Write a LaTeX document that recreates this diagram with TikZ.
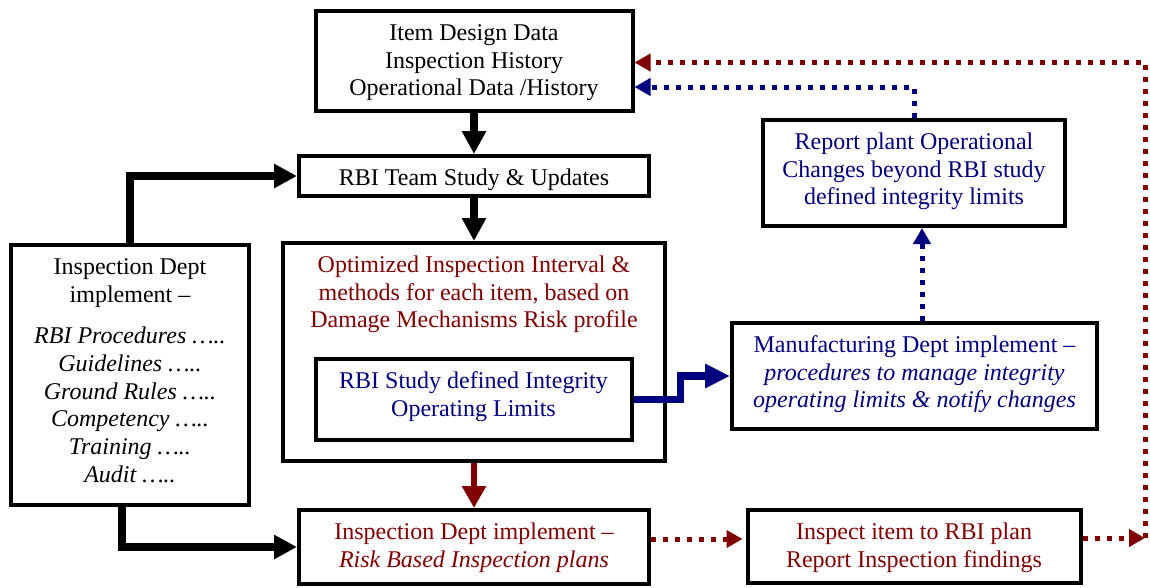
\documentclass[tikz,border=0pt]{standalone}
\usepackage{fontspec}
\setmainfont{Liberation Serif}
\usetikzlibrary{arrows.meta}
\definecolor{dred}{RGB}{128,0,0}
\definecolor{dblue}{RGB}{0,0,128}
\newcommand{\boxfont}{\fontsize{24}{27.7}\selectfont}
\begin{document}
\begin{tikzpicture}[x=1pt,y=-1pt,
  box/.style={draw=black, line width=4pt, inner sep=0pt, align=center, font=\boxfont},
  txt/.style={inner sep=0pt, align=center, font=\boxfont},
  blk/.style={draw=black, line width=7.5pt, -{Triangle[length=23pt,width=23pt]}},
  redsolid/.style={draw=dred, line width=6.5pt, -{Triangle[length=22pt,width=23pt]}},
  bluesolid/.style={draw=dblue, line width=7.5pt, -{Triangle[length=25pt,width=23pt]}},
  rdots/.style={draw=dred, line width=5pt, dash pattern=on 5pt off 7pt, -{Triangle[length=16pt,width=17pt]}},
  bdots/.style={draw=dblue, line width=5pt, dash pattern=on 5pt off 7pt, -{Triangle[length=16pt,width=17pt]}}
]
\useasboundingbox (0,0) rectangle (1150,587);

% boxes
\node[box, minimum width=317pt, minimum height=100pt, text height=76.8pt, text depth=7.4pt] (A) at (474,61)
  {Item Design Data\\Inspection History\\Operational Data /History};
\node[box, minimum width=350pt, minimum height=40pt, text height=21.4pt, text depth=2.8pt] (B) at (474,176)
  {RBI Team Study \& Updates};
\node[box, minimum width=382pt, minimum height=218pt] (C) at (474,352) {};
\node[txt, text=dred, text height=76.8pt, text depth=5.2pt] (Ct) at (474,291.9)
  {Optimized Inspection Interval \&\\methods for each item, based on\\Damage Mechanisms Risk profile};
\node[box, minimum width=316pt, minimum height=81pt, text=dblue, text height=49.1pt, text depth=16.1pt] (D) at (473.5,399.5)
  {RBI Study defined Integrity\\Operating Limits};
\node[box, minimum width=238pt, minimum height=260pt] (E) at (130,375) {};
\node[txt, text height=229.3pt, text depth=5.2pt] (Et) at (130,370.2)
  {Inspection Dept\\implement –\\[14pt]
   \textit{RBI Procedures …..}\\\textit{Guidelines …..}\\\textit{Ground Rules …..}\\
   \textit{Competency …..}\\\textit{Training …..}\\\textit{Audit …..}};
\node[box, minimum width=350pt, minimum height=74pt, text=dred, text height=49.1pt, text depth=9.1pt] (F) at (474,547)
  {Inspection Dept implement –\\\textit{Risk Based Inspection plans}};
\node[box, minimum width=302pt, minimum height=106pt, text=dblue, text height=76.8pt, text depth=13.4pt] (G) at (914,173)
  {Report plant Operational\\Changes beyond RBI study\\defined integrity limits};
\node[box, minimum width=365pt, minimum height=106pt, text=dblue, text height=76.8pt, text depth=13.4pt] (H) at (914.5,376)
  {Manufacturing Dept implement –\\\textit{procedures to manage integrity}\\\textit{operating limits \& notify changes}};
\node[box, minimum width=333pt, minimum height=73pt, text=dred, text height=49.1pt, text depth=8.1pt] (I) at (914,546.5)
  {Inspect item to RBI plan\\Report Inspection findings};

% connectors
\draw[blk] (A.south) -- (B.north);
\draw[blk] (B.south) -- (C.north);
\draw[blk] (E.north) |- (B.west);
\draw[blk] ([xshift=-8pt]E.south) |- (F.west);
\draw[redsolid] (C.south) -- (F.north);
\draw[bluesolid] (D.east) -- ++(47,0) |- (H.west);
\draw[bdots] ([xshift=7.5pt]H.north) -- ([xshift=7.5pt]H.north |- G.south);
\draw[bdots] (G.north) |- ([yshift=-26pt]A.east);
\draw[rdots, shorten >=3pt] ([yshift=8pt]F.east) -- ([yshift=8pt]F.east -| I.west);
\coordinate (rc) at (1145,538);
\draw[rdots] ([yshift=8.5pt]I.east) -- (rc);
\draw[rdots] (rc) |- ([yshift=-1.5pt]A.east);
\end{tikzpicture}
\end{document}
